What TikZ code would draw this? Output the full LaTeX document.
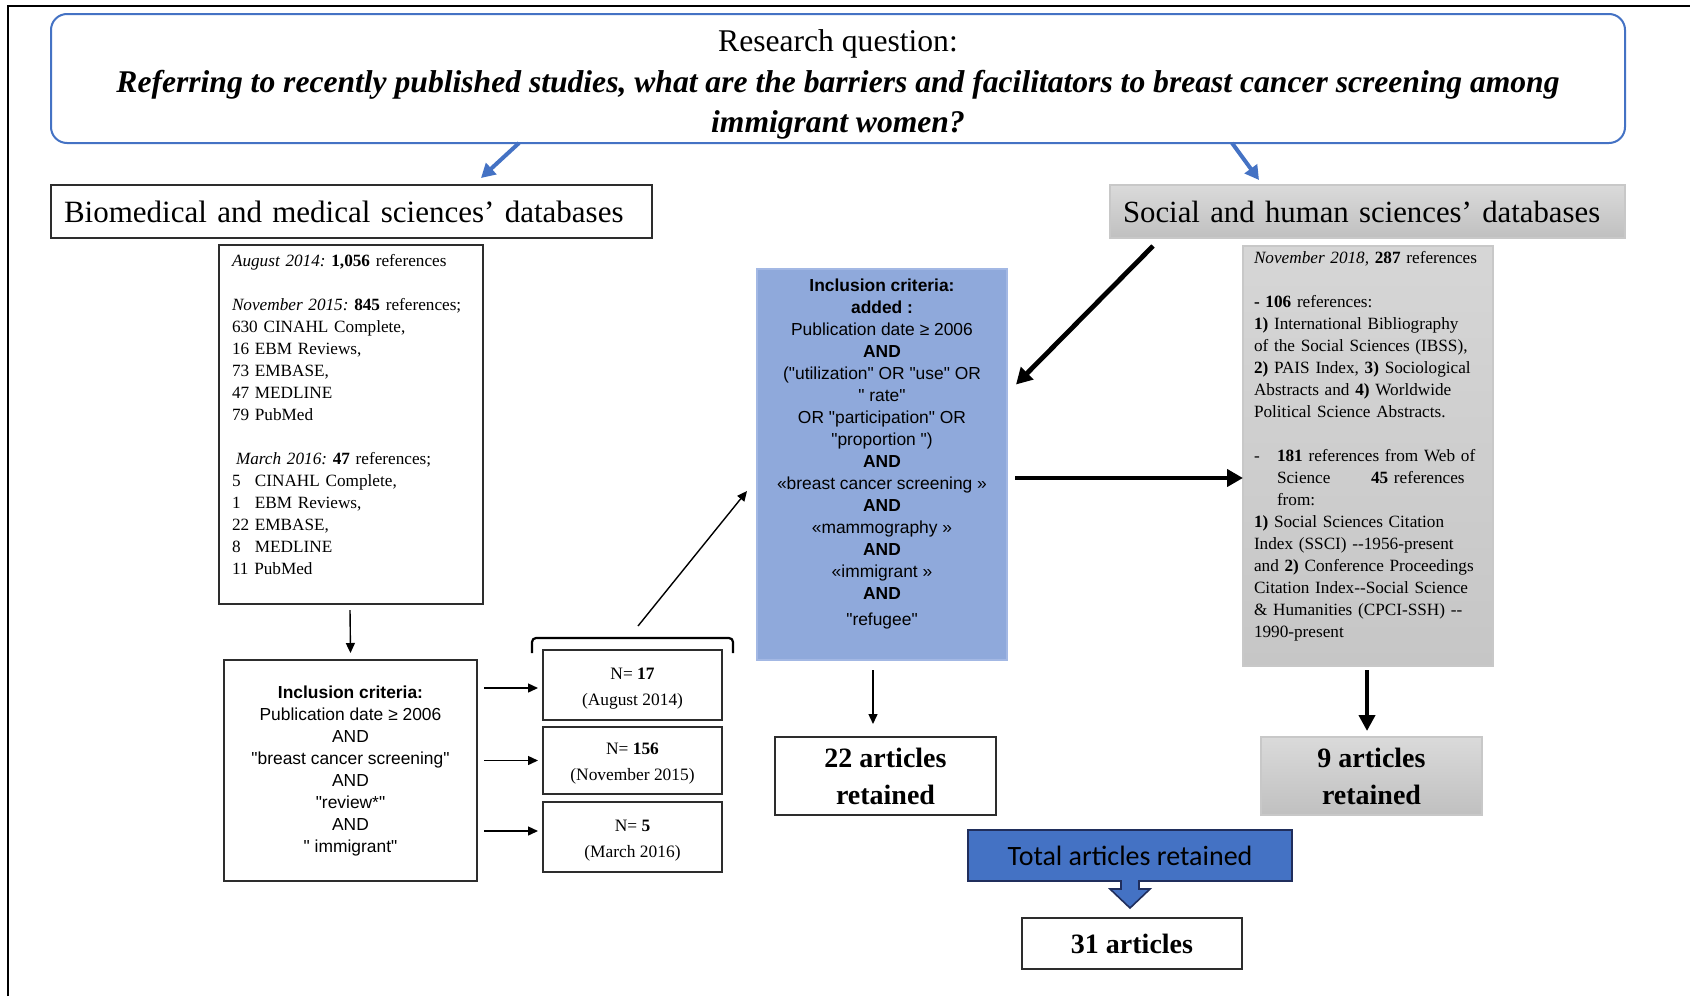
\documentclass[tikz,border=0pt]{standalone}
\usepackage{fontspec}
\setmainfont{Liberation Serif}
\setsansfont[Ligatures=TeXOff]{Liberation Sans}
\newfontfamily\calibri{Carlito}
\usetikzlibrary{arrows.meta,calc}
\definecolor{qblue}{RGB}{68,114,196}
\definecolor{critblue}{RGB}{143,169,219}
\definecolor{critedge}{RGB}{163,184,228}
\definecolor{navyedge}{RGB}{32,46,92}
\definecolor{boxedge}{RGB}{45,45,45}
\definecolor{greyedge}{RGB}{200,200,200}
\definecolor{greytop}{RGB}{218,218,218}
\definecolor{greybot}{RGB}{192,192,192}
\frenchspacing

\begin{document}
\begin{tikzpicture}[x=.5pt,y=-.5pt,
  every node/.style={inner sep=0pt,outer sep=0pt},
  box/.style={draw=boxedge,line width=0.9pt},
  greybox/.style={draw=greyedge,line width=0.6pt,top color=greytop,bottom color=greybot},
  serifsmall/.style={font=\fontsize{8.6}{11}\selectfont},
  sanssmall/.style={font=\sffamily\fontsize{8.7}{11}\selectfont},
  retained/.style={box,minimum width=110.5pt,minimum height=39pt,align=center,font=\bfseries\fontsize{14}{18.5}\selectfont},
  countbox/.style={box,minimum width=89.5pt,align=center,font=\fontsize{8.7}{13}\selectfont},
  thinarrow/.style={line width=0.7pt,-{Triangle[length=5pt,width=4.5pt]}},
  thickarrow/.style={line width=2.4pt,-{Triangle[length=8pt,width=8.5pt]}},
  bluearrow/.style={draw=qblue,line width=2pt,-{Triangle[length=7pt,width=7.5pt]}}]
\path[use as bounding box] (0,0) rectangle (1690,996);
\path[fill=white,draw=none] (0,0) rectangle (1690,996);
\draw[line width=1pt] (8,996) -- (8,6) -- (1690,6);

\node[draw=qblue,line width=1pt,rounded corners=8pt,minimum width=787pt,minimum height=64.5pt,align=center,font=\fontsize{15.8}{20.25}\selectfont] (question) at (838,78.5) {\rule{0pt}{17.3pt}Research question:\\\textbf{\textit{Referring to recently published studies, what are the barriers and facilitators to breast cancer screening among}}\\\textbf{\textit{immigrant women?}}};

\node[box,minimum width=300.5pt,minimum height=26.5pt,inner xsep=6.5pt,text width=287.5pt,align=left,font=\fontsize{15.5}{18}\selectfont] (bio) at (351.5,211.5) {Biomedical and medical sciences’ databases};
\node[greybox,minimum width=257.5pt,minimum height=26.5pt,inner xsep=6.5pt,text width=244.5pt,align=left,font=\fontsize{15.4}{18}\selectfont] (social) at (1367.5,211.5) {Social and human sciences’ databases};

\node[box,serifsmall,minimum width=132pt,minimum height=179.5pt,inner xsep=6.5pt,text width=119pt,align=left] (bioref) at (351,424.5) {\textit{August 2014:} \textbf{1,056} references\\[11pt]
\textit{November 2015:} \textbf{845} references;\\
630 CINAHL Complete,\\
16 EBM Reviews,\\
73 EMBASE,\\
47 MEDLINE\\
79 PubMed\\[11pt]
\hspace*{2pt}\textit{March 2016:} \textbf{47} references;\\
\makebox[1em][l]{5} CINAHL Complete,\\
\makebox[1em][l]{1} EBM Reviews,\\
22 EMBASE,\\
\makebox[1em][l]{8} MEDLINE\\
11 PubMed\\[-1pt]\mbox{}};

\node[box,sanssmall,minimum width=126.5pt,minimum height=110.5pt,align=center] (crit1) at (350.5,770.5) {\textbf{Inclusion criteria:}\\
Publication date ≥ 2006\\
AND\\
"breast cancer screening"\\
AND\\
"review*"\\
AND\\
" immigrant"};

\node[countbox,minimum height=35pt] (n17) at (632.5,685) {\rule{0pt}{9pt}N= \textbf{17}\\(August 2014)};
\node[countbox,minimum height=33.5pt] (n156) at (632.5,760.5) {\rule{0pt}{9pt}N= \textbf{156}\\(November 2015)};
\node[countbox,minimum height=35pt] (n5) at (632.5,837) {\rule{0pt}{9pt}N= \textbf{5}\\(March 2016)};

\node[sanssmall,fill=critblue,draw=critedge,line width=0.8pt,minimum width=125pt,minimum height=195.5pt,align=center] (crit2) at (882,464.5) {\textbf{Inclusion criteria:}\\
\textbf{added :}\\
Publication date ≥ 2006\\
\textbf{AND}\\
("utilization" OR "use" OR\\
" rate"\\
OR "participation" OR\\
"proportion ")\\
\textbf{AND}\\
«breast cancer screening »\\
\textbf{AND}\\
«mammography »\\
\textbf{AND}\\
«immigrant »\\
\textbf{AND}\\[2pt]
"refugee"\\[1pt]\mbox{}};

\node[greybox,serifsmall,top color={rgb,255:red,214;green,214;blue,214},bottom color={rgb,255:red,198;green,198;blue,198},minimum width=125pt,minimum height=210pt,inner xsep=5.5pt,text width=114pt,align=left] (socref) at (1368,456) {\textit{November 2018,} \textbf{287} references\\[11pt]
\textbf{- 106} references:\\
\textbf{1)} International Bibliography\\
of the Social Sciences (IBSS),\\
\textbf{2)} PAIS Index, \textbf{3)} Sociological\\
Abstracts and \textbf{4)} Worldwide\\
Political Science Abstracts.\\[11pt]
\makebox[11.5pt][l]{-}\textbf{181} references from Web of\\
\makebox[58.5pt][l]{\hspace*{11.5pt}Science}\mbox{\textbf{45} references}\\
\hspace*{11.5pt}from:\\
\textbf{1)} Social Sciences Citation\\
Index (SSCI) -{}-1956-present\\
and \textbf{2)} Conference Proceedings\\
Citation Index-{}-Social Science\\
\& Humanities (CPCI-SSH) -{}-\\
1990-present\\[1pt]\mbox{}};

\node[retained] (ret22) at (885.5,776) {22 articles\\retained};
\node[retained,greybox] (ret9) at (1371.5,776) {9 articles\\retained};
\node[fill=qblue,draw=navyedge,line width=0.9pt,minimum width=162pt,minimum height=25.5pt,font=\calibri\fontsize{14}{16}\selectfont] (total) at (1130,855.5) {Total articles retained};
\node[box,minimum width=110pt,minimum height=25.5pt,font=\bfseries\fontsize{14}{16}\selectfont] (final) at (1132,943.5) {31 articles};

\draw[bluearrow] ($(question.south)+(-319,0)$) -- ($(bio.north)+(129.5,-7)$);
\draw[bluearrow] ($(question.south)+(394,0)$) -- ($(social.north)+(-108.5,-5)$);

\draw[thinarrow] ($(bioref.south)+(-1,6)$) -- ($(crit1.north)+(0,-7)$);
\draw[thinarrow] ($(crit1.east |- n17.west)+(7,3)$) -- ($(n17.west)+(-5,3)$);
\draw[thinarrow] ($(crit1.east |- n156.west)+(7,0)$) -- ($(n156.west)+(-5,0)$);
\draw[thinarrow] ($(crit1.east |- n5.west)+(7,-6)$) -- ($(n5.west)+(-5,-6)$);

\draw[line width=1.1pt,rounded corners=2pt] ($(n17.north west)+(-11,3)$) -- ($(n17.north west)+(-11,-12)$) -- ($(n17.north east)+(11,-12)$) -- ($(n17.north east)+(11,3)$);
\coordinate (bracket) at ($(n17.north)+(5.5,-24)$);
\draw[thinarrow] (bracket) -- ($(crit2.west)+(-10,26.5)$);

\draw[thickarrow] ($(social.south west)+(43,8)$) -- ($(crit2.east)+(9,-80)$);
\draw[thickarrow] ($(crit2.east)+(8,13.5)$) -- ($(crit2.east -| socref.west)+(0,13.5)$);

\draw[thinarrow] ($(crit2.south)+(-9,10)$) -- ($(ret22.north)+(-12.5,-13)$);
\draw[line width=2pt,-{Triangle[length=8pt,width=8pt]}] ($(socref.south)+(-1,4)$) -- ($(ret9.north)+(-4.5,-6)$);

\draw[fill=qblue,draw=navyedge,line width=0.8pt] ($(total.south)+(-9,-1)$) -- ($(total.south)+(-9,8)$) -- ($(total.south)+(-20,8)$) -- ($(total.south)+(0,27)$) -- ($(total.south)+(20,8)$) -- ($(total.south)+(9,8)$) -- ($(total.south)+(9,-1)$);
\end{tikzpicture}
\end{document}
